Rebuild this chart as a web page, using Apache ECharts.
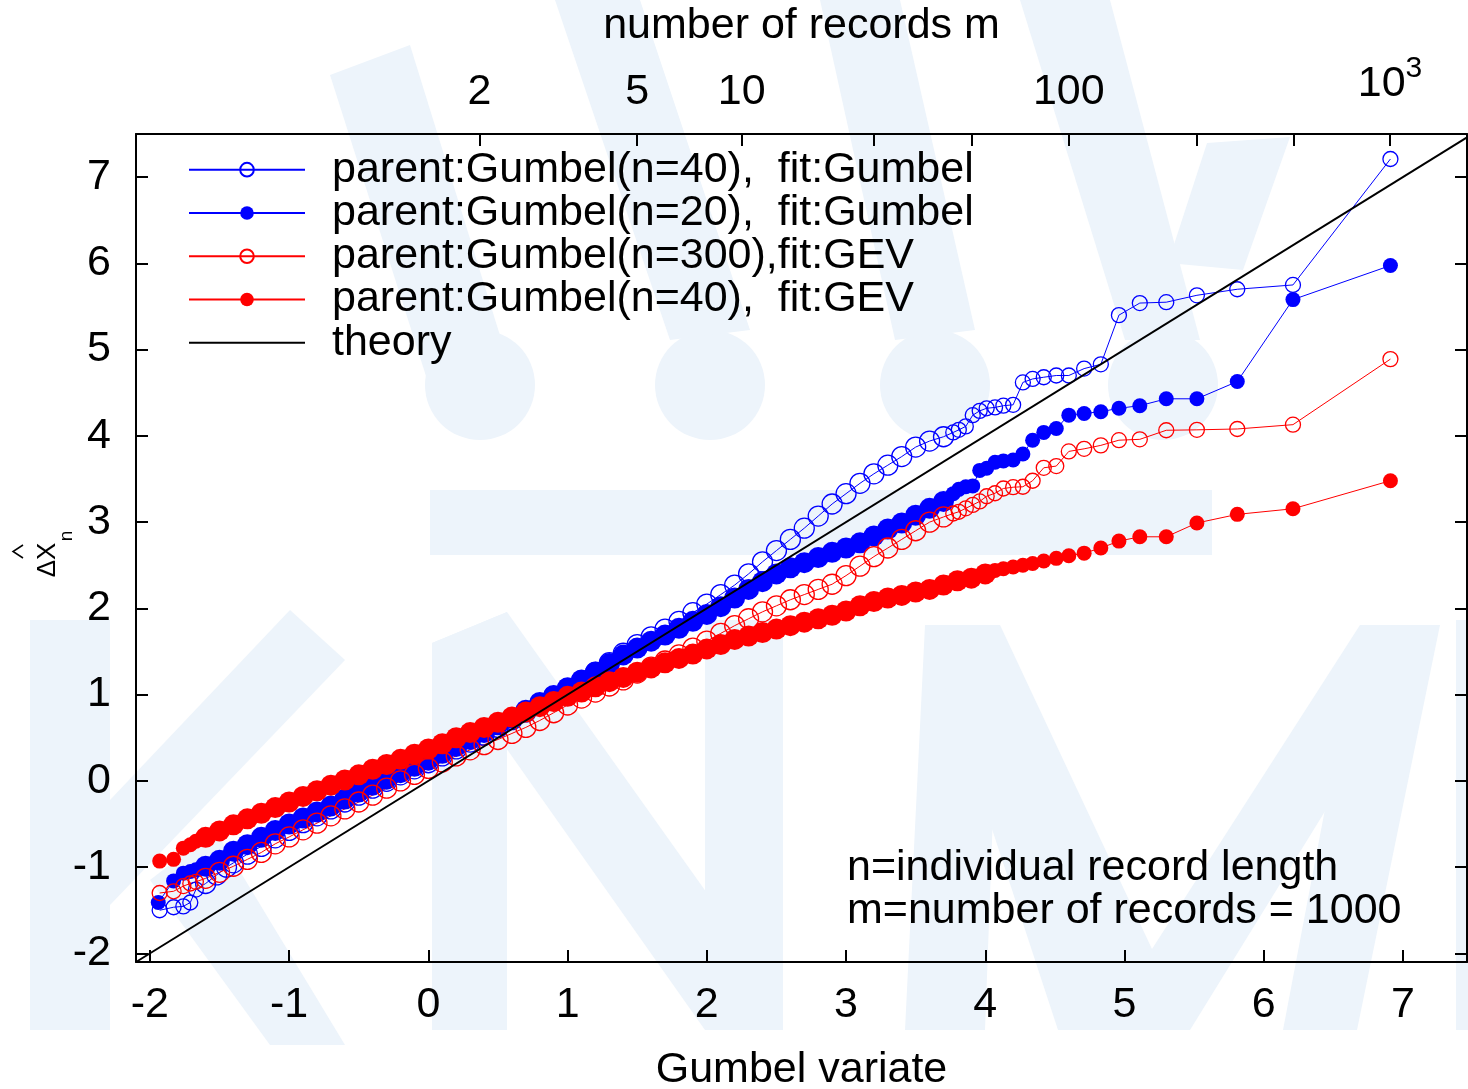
<!DOCTYPE html>
<html>
<head>
<meta charset="utf-8">
<script src="https://cdn.jsdelivr.net/npm/echarts@6/dist/echarts.min.js"></script>
<style>
html, body { margin: 0; padding: 0; background: #fff; }
#chart { width: 1468px; height: 1089px; }
</style>
</head>
<body>
<div id="chart"></div>
<script>
const FONT = '"Liberation Sans", Arial, sans-serif';

// bottom / left axis ticks
const gumbelTicks = [-2, -1, 0, 1, 2, 3, 4, 5, 6, 7];
const valueTicks = [-2, -1, 0, 1, 2, 3, 4, 5, 6, 7];

// top axis: number of records m (m = 2,5,10,25,50,100,250,500,1000) at their Gumbel variate
const recordTicks = [0.367, 1.5, 2.25, 3.199, 3.902, 4.6, 5.52, 6.214, 6.907];
const recordLabelPos = [0.367, 1.5, 2.25, 4.6, 6.907];
const recordLabels = ['2', '5', '10', '100', '{b|10}{s|3}'];

// [Gumbel variate, ΔX̂n]
const gumbel40 = [
  [-1.93, -1.5], [-1.83, -1.465], [-1.76, -1.455], [-1.71, -1.41], [-1.67, -1.26], [-1.6, -1.19],
  [-1.52, -1.09], [-1.45, -1.0], [-1.4, -0.95], [-1.3, -0.85], [-1.2, -0.76], [-1.1, -0.66],
  [-1.0, -0.575], [-0.9, -0.485], [-0.8, -0.405], [-0.7, -0.325], [-0.6, -0.245], [-0.5, -0.165],
  [-0.4, -0.085], [-0.3, -0.005], [-0.2, 0.07], [-0.1, 0.14], [0, 0.21], [0.1, 0.29], [0.2, 0.37],
  [0.3, 0.45], [0.4, 0.53], [0.5, 0.62], [0.6, 0.71], [0.7, 0.8], [0.8, 0.89], [0.9, 0.98],
  [1.0, 1.07], [1.1, 1.16], [1.2, 1.26], [1.3, 1.37], [1.4, 1.48], [1.5, 1.58], [1.6, 1.67],
  [1.7, 1.76], [1.8, 1.85], [1.9, 1.95], [2.0, 2.05], [2.1, 2.16], [2.2, 2.27], [2.3, 2.4],
  [2.4, 2.54], [2.5, 2.67], [2.6, 2.8], [2.7, 2.93], [2.8, 3.07], [2.9, 3.21], [3.0, 3.33],
  [3.1, 3.45], [3.2, 3.56], [3.3, 3.66], [3.4, 3.76], [3.5, 3.87], [3.6, 3.94], [3.7, 3.99],
  [3.77, 4.04], [3.81, 4.07], [3.86, 4.11], [3.91, 4.24], [3.96, 4.29], [4.01, 4.32], [4.07, 4.33],
  [4.13, 4.35], [4.2, 4.36], [4.27, 4.62], [4.34, 4.66], [4.42, 4.68], [4.51, 4.7], [4.6, 4.7],
  [4.71, 4.78], [4.83, 4.83], [4.96, 5.4], [5.11, 5.54], [5.3, 5.55], [5.52, 5.63], [5.81, 5.7],
  [6.21, 5.75], [6.91, 7.21]
];
const gumbel20 = [
  [-1.94, -1.41], [-1.83, -1.16], [-1.76, -1.07], [-1.71, -1.05], [-1.67, -1.03], [-1.6, -0.99],
  [-1.5, -0.92], [-1.4, -0.815], [-1.3, -0.74], [-1.2, -0.655], [-1.1, -0.575], [-1.0, -0.5],
  [-0.9, -0.43], [-0.8, -0.36], [-0.7, -0.29], [-0.6, -0.21], [-0.5, -0.13], [-0.4, -0.05],
  [-0.3, 0.02], [-0.2, 0.095], [-0.1, 0.17], [0, 0.24], [0.1, 0.32], [0.2, 0.4], [0.3, 0.48],
  [0.4, 0.56], [0.5, 0.65], [0.6, 0.73], [0.7, 0.82], [0.8, 0.91], [0.9, 0.99], [1.0, 1.08],
  [1.1, 1.17], [1.2, 1.26], [1.3, 1.36], [1.4, 1.46], [1.5, 1.54], [1.6, 1.62], [1.7, 1.69],
  [1.8, 1.77], [1.9, 1.85], [2.0, 1.93], [2.1, 2.02], [2.2, 2.12], [2.3, 2.22], [2.4, 2.31],
  [2.5, 2.4], [2.6, 2.47], [2.7, 2.53], [2.8, 2.59], [2.9, 2.65], [3.0, 2.7], [3.1, 2.76],
  [3.2, 2.84], [3.3, 2.92], [3.4, 2.99], [3.5, 3.08], [3.6, 3.16], [3.7, 3.24], [3.77, 3.33],
  [3.81, 3.38], [3.86, 3.41], [3.91, 3.42], [3.96, 3.6], [4.01, 3.625], [4.07, 3.695], [4.13, 3.71],
  [4.2, 3.72], [4.27, 3.79], [4.34, 3.95], [4.42, 4.04], [4.51, 4.085], [4.6, 4.24], [4.71, 4.26],
  [4.83, 4.28], [4.96, 4.32], [5.11, 4.35], [5.3, 4.43], [5.52, 4.43], [5.81, 4.63], [6.21, 5.58],
  [6.91, 5.975]
];
const gev300 = [
  [-1.93, -1.3], [-1.83, -1.28], [-1.76, -1.22], [-1.71, -1.19], [-1.67, -1.17], [-1.6, -1.13],
  [-1.5, -1.06], [-1.4, -0.99], [-1.3, -0.91], [-1.2, -0.83], [-1.1, -0.73], [-1.0, -0.65],
  [-0.9, -0.567], [-0.8, -0.49], [-0.7, -0.405], [-0.6, -0.325], [-0.5, -0.245], [-0.4, -0.165],
  [-0.3, -0.085], [-0.2, 0.0], [-0.1, 0.075], [0, 0.145], [0.1, 0.22], [0.2, 0.29], [0.3, 0.36],
  [0.4, 0.42], [0.5, 0.48], [0.6, 0.55], [0.7, 0.62], [0.8, 0.7], [0.9, 0.79], [1.0, 0.88],
  [1.1, 0.96], [1.2, 1.03], [1.3, 1.1], [1.4, 1.17], [1.5, 1.25], [1.6, 1.32], [1.7, 1.39],
  [1.8, 1.46], [1.9, 1.54], [2.0, 1.62], [2.1, 1.71], [2.2, 1.8], [2.3, 1.88], [2.4, 1.96],
  [2.5, 2.03], [2.6, 2.1], [2.7, 2.16], [2.8, 2.22], [2.9, 2.28], [3.0, 2.38], [3.1, 2.49],
  [3.2, 2.6], [3.3, 2.7], [3.4, 2.8], [3.5, 2.9], [3.6, 3.0], [3.7, 3.06], [3.77, 3.1],
  [3.81, 3.12], [3.86, 3.16], [3.91, 3.2], [3.96, 3.24], [4.01, 3.3], [4.07, 3.335], [4.13, 3.39],
  [4.2, 3.405], [4.27, 3.41], [4.34, 3.48], [4.42, 3.63], [4.51, 3.65], [4.6, 3.82], [4.71, 3.85],
  [4.83, 3.89], [4.96, 3.95], [5.11, 3.96], [5.3, 4.065], [5.52, 4.07], [5.81, 4.08], [6.21, 4.13],
  [6.91, 4.89]
];
const gev40 = [
  [-1.93, -0.93], [-1.83, -0.91], [-1.76, -0.78], [-1.71, -0.74], [-1.67, -0.7], [-1.6, -0.655],
  [-1.5, -0.58], [-1.4, -0.51], [-1.3, -0.44], [-1.2, -0.375], [-1.1, -0.31], [-1.0, -0.245],
  [-0.9, -0.18], [-0.8, -0.115], [-0.7, -0.05], [-0.6, 0.01], [-0.5, 0.07], [-0.4, 0.135],
  [-0.3, 0.19], [-0.2, 0.25], [-0.1, 0.31], [0, 0.37], [0.1, 0.43], [0.2, 0.5], [0.3, 0.56],
  [0.4, 0.62], [0.5, 0.68], [0.6, 0.74], [0.7, 0.8], [0.8, 0.86], [0.9, 0.92], [1.0, 0.98],
  [1.1, 1.03], [1.2, 1.09], [1.3, 1.15], [1.4, 1.2], [1.5, 1.26], [1.6, 1.31], [1.7, 1.37],
  [1.8, 1.42], [1.9, 1.47], [2.0, 1.53], [2.1, 1.58], [2.2, 1.64], [2.3, 1.68], [2.4, 1.72],
  [2.5, 1.76], [2.6, 1.8], [2.7, 1.84], [2.8, 1.88], [2.9, 1.92], [3.0, 1.97], [3.1, 2.03],
  [3.2, 2.08], [3.3, 2.12], [3.4, 2.15], [3.5, 2.19], [3.6, 2.22], [3.7, 2.27], [3.8, 2.32],
  [3.9, 2.35], [4.0, 2.4], [4.07, 2.44], [4.13, 2.46], [4.2, 2.48], [4.27, 2.5], [4.34, 2.52],
  [4.42, 2.55], [4.51, 2.58], [4.6, 2.61], [4.71, 2.64], [4.83, 2.7], [4.96, 2.78], [5.11, 2.83],
  [5.3, 2.83], [5.52, 2.99], [5.81, 3.09], [6.21, 3.155], [6.91, 3.48]
];
const theory = [[-2.1, -2.1], [7.46, 7.46]];

const seriesNames = [
  'parent:Gumbel(n=40),  fit:Gumbel',
  'parent:Gumbel(n=20),  fit:Gumbel',
  'parent:Gumbel(n=300),fit:GEV',
  'parent:Gumbel(n=40),  fit:GEV',
  'theory'
];

const BLUE = '#0000ff';
const RED = '#ff0000';
const PALE = '#edf4fb';

// markers are bigger where the points pile up into a band
function sizeFn(from, to, big, small) {
  return function (v) { return v[0] > from && v[0] < to ? big : small; };
}

function pointSeries(name, data, color, filled, denseTo) {
  return {
    name: name,
    type: 'line',
    data: data,
    symbol: 'circle',
    symbolSize: sizeFn(-1.65, denseTo, filled ? 21 : 20, 15),
    showAllSymbol: true,
    lineStyle: { color: color, width: 1 },
    itemStyle: filled
      ? { color: color }
      : { color: 'rgba(255,255,255,0)', borderColor: color, borderWidth: 1.3 },
    emphasis: { disabled: true },
    z: 3
  };
}

// faint logo in the background
const wm = [
  { type: 'rect', shape: { x: 30, y: 620, width: 80, height: 410 } },
  { type: 'polygon', shape: { points: [[110, 800], [290, 610], [345, 660], [110, 905]] } },
  { type: 'polygon', shape: { points: [[150, 880], [215, 830], [345, 1045], [270, 1045]] } },
  { type: 'polygon', shape: { points: [[432, 643], [507, 612], [507, 1030], [432, 1030]] } },
  { type: 'polygon', shape: { points: [[432, 643], [507, 612], [783, 1000], [705, 1030]] } },
  { type: 'rect', shape: { x: 705, y: 620, width: 78, height: 410 } },
  { type: 'polygon', shape: { points: [[925, 625], [1000, 625], [985, 1030], [905, 1030]] } },
  { type: 'polygon', shape: { points: [[925, 625], [1000, 625], [1190, 1030], [1058, 1030]] } },
  { type: 'polygon', shape: { points: [[1360, 625], [1440, 625], [1190, 1030], [1100, 1030]] } },
  { type: 'polygon', shape: { points: [[1360, 625], [1440, 625], [1357, 1030], [1283, 1030]] } },
  { type: 'rect', shape: { x: 1456, y: 620, width: 20, height: 410 } },
  { type: 'rect', shape: { x: 430, y: 490, width: 782, height: 65 } },
  { type: 'circle', shape: { cx: 480, cy: 385, r: 55 } },
  { type: 'circle', shape: { cx: 710, cy: 385, r: 55 } },
  { type: 'circle', shape: { cx: 935, cy: 385, r: 55 } },
  { type: 'circle', shape: { cx: 1163, cy: 385, r: 55 } },
  { type: 'polygon', shape: { points: [[330, 75], [410, 45], [520, 400], [440, 420]] } },
  { type: 'polygon', shape: { points: [[555, 0], [640, 0], [750, 330], [670, 340]] } },
  { type: 'polygon', shape: { points: [[820, 0], [900, 0], [975, 330], [895, 340]] } },
  { type: 'polygon', shape: { points: [[1020, 0], [1110, 0], [1200, 340], [1125, 340]] } },
  { type: 'polygon', shape: { points: [[1207, 143], [1290, 137], [1243, 270], [1168, 263]] } }
].map(function (e) {
  return Object.assign({ z: -10, silent: true, style: { fill: PALE } }, e);
});

const texts = [
  { type: 'text', x: 847, y: 868, z: 10, style: { text: 'n=individual record length', font: '43px ' + FONT, fill: '#000', verticalAlign: 'middle' } },
  { type: 'text', x: 847, y: 911, z: 10, style: { text: 'm=number of records = 1000', font: '43px ' + FONT, fill: '#000', verticalAlign: 'middle' } },
  { type: 'text', x: 48, y: 560, rotation: Math.PI / 2, z: 10, style: { text: '\u0394X', font: '26px ' + FONT, fill: '#000', align: 'center', verticalAlign: 'middle' } },
  { type: 'text', x: 67, y: 536, rotation: Math.PI / 2, z: 10, style: { text: 'n', font: '19px ' + FONT, fill: '#000', align: 'center', verticalAlign: 'middle' } },
  { type: 'polyline', z: 10, shape: { points: [[23, 545], [13, 551.5], [23, 558]] }, style: { stroke: '#000', lineWidth: 1.5, fill: null } }
];

const chart = echarts.init(document.getElementById('chart'), null, { renderer: 'canvas' });

const axisLine = { show: true, onZero: false, lineStyle: { color: '#000', width: 2 } };
const tickStyle = { color: '#000', width: 2 };
const labelStyle = { color: '#000', fontSize: 43, fontFamily: FONT };

chart.setOption({
  animation: false,
  backgroundColor: '#fff',
  textStyle: { fontFamily: FONT },
  grid: { left: 136, top: 134, width: 1331, height: 828, containLabel: false, outerBoundsMode: 'none' },
  graphic: { elements: wm.concat(texts) },
  legend: {
    orient: 'vertical',
    left: 188,
    top: 148,
    padding: 0,
    itemGap: 0,
    itemWidth: 116,
    itemHeight: 17,
    selectedMode: false,
    data: seriesNames.slice(0, 4).concat([{ name: 'theory', itemStyle: { opacity: 0 } }]),
    textStyle: { color: '#000', fontSize: 43, fontFamily: FONT, lineHeight: 43.3, padding: [0, 0, 0, 22] }
  },
  xAxis: [
    {
      type: 'value', position: 'bottom', min: -2.1, max: 7.46,
      axisLine: axisLine,
      axisTick: { inside: true, length: 12, customValues: gumbelTicks, lineStyle: tickStyle },
      axisLabel: Object.assign({ customValues: gumbelTicks, margin: 22 }, labelStyle),
      splitLine: { show: false },
      name: 'Gumbel variate', nameLocation: 'middle', nameGap: 87,
      nameTextStyle: labelStyle
    },
    {
      type: 'value', position: 'top', min: -2.1, max: 7.46,
      axisLine: axisLine,
      axisTick: { inside: true, length: 12, customValues: recordTicks, lineStyle: tickStyle },
      axisLabel: Object.assign({
        customValues: recordLabelPos, margin: 20,
        formatter: function (v) {
          let best = 0;
          recordLabelPos.forEach(function (p, i) {
            if (Math.abs(p - v) < Math.abs(recordLabelPos[best] - v)) best = i;
          });
          return recordLabels[best];
        },
        rich: {
          b: { fontSize: 43, fontFamily: FONT, color: '#000' },
          s: { fontSize: 30, fontFamily: FONT, color: '#000', padding: [0, 0, 30, 0] }
        }
      }, labelStyle),
      splitLine: { show: false },
      name: 'number of records m', nameLocation: 'middle', nameGap: 86,
      nameTextStyle: labelStyle
    }
  ],
  yAxis: [
    {
      type: 'value', position: 'left', min: -2.1, max: 7.5,
      axisLine: axisLine,
      axisTick: { inside: true, length: 12, customValues: valueTicks, lineStyle: tickStyle },
      axisLabel: Object.assign({ customValues: valueTicks, margin: 25 }, labelStyle),
      splitLine: { show: false }
    },
    {
      type: 'value', position: 'right', min: -2.1, max: 7.5,
      axisLine: axisLine,
      axisTick: { inside: true, length: 12, customValues: valueTicks, lineStyle: tickStyle },
      axisLabel: { show: false },
      splitLine: { show: false }
    }
  ],
  series: [
    pointSeries(seriesNames[0], gumbel40, BLUE, false, 3.72),
    pointSeries(seriesNames[1], gumbel20, BLUE, true, 3.72),
    pointSeries(seriesNames[2], gev300, RED, false, 3.72),
    pointSeries(seriesNames[3], gev40, RED, true, 4.03),
    {
      name: seriesNames[4], type: 'line', data: theory, symbol: 'none',
      lineStyle: { color: '#000', width: 2 }, emphasis: { disabled: true }, z: 4
    }
  ]
});
</script>
</body>
</html>
